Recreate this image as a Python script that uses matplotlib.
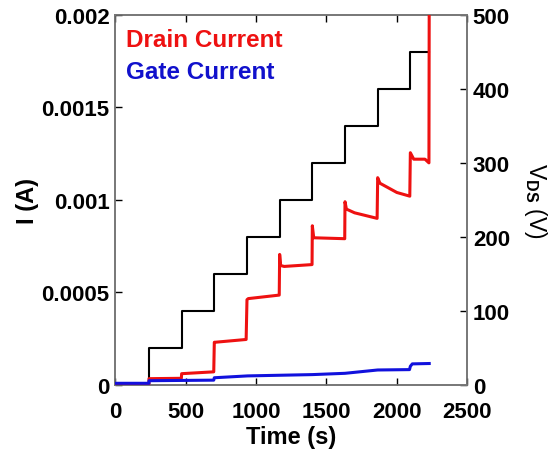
import matplotlib
matplotlib.use("Agg")
import matplotlib.pyplot as plt

plt.rcParams['font.family'] = ['Liberation Sans', 'DejaVu Sans']
plt.rcParams['font.weight'] = 'bold'
plt.rcParams['mathtext.fontset'] = 'custom'
plt.rcParams['mathtext.rm'] = 'Liberation Sans:bold'
plt.rcParams['mathtext.bf'] = 'Liberation Sans:bold'
plt.rcParams['mathtext.default'] = 'bf'

# voltage steps (s, V)
step_t = [0, 240, 472, 704, 936, 1168, 1400, 1632, 1864, 2096, 2230]
vds = [0, 50, 100, 150, 200, 250, 300, 350, 400, 450]

# drain current (s, A)
drain_t = [0, 240, 240, 470, 472, 700, 704, 710, 930, 936, 945, 1165,
           1168, 1175, 1200, 1398, 1400, 1410, 1630, 1632, 1642, 1700, 1860,
           1864, 1880, 2000, 2092, 2096, 2120, 2200, 2228, 2230]
drain_i = [0.5e-5, 0.5e-5, 3.3e-5, 3.5e-5, 6.0e-5, 7.0e-5, 2.3e-4, 2.3e-4, 2.45e-4, 4.6e-4, 4.66e-4, 4.85e-4,
           7.05e-4, 6.45e-4, 6.4e-4, 6.5e-4, 8.6e-4, 7.95e-4, 7.9e-4, 9.9e-4, 9.5e-4, 9.3e-4, 9.0e-4,
           1.12e-3, 1.09e-3, 1.04e-3, 1.02e-3, 1.255e-3, 1.22e-3, 1.22e-3, 1.2e-3, 2.1e-3]

# gate current (s, A)
gate_t = [0, 240, 240, 700, 704, 940, 1400, 1632, 1864, 2090, 2096, 2110, 2230]
gate_i = [0.8e-5, 0.8e-5, 2.2e-5, 2.5e-5, 3.8e-5, 4.8e-5, 5.5e-5, 6.2e-5, 8.0e-5, 8.2e-5, 1.0e-4, 1.13e-4, 1.15e-4]

fig, ax = plt.subplots(figsize=(5.51, 4.56), dpi=100)
fig.subplots_adjust(left=0.209, right=0.848, top=0.965, bottom=0.154)
ax2 = ax.twinx()

ax2.step(step_t, vds + [vds[-1]], where='post', color='black', lw=1.5, zorder=1)
ax.plot(drain_t, drain_i, color='#ee1111', lw=2.2, zorder=3)
ax.plot(gate_t, gate_i, color='#1111dd', lw=2.2, zorder=4)
ax.set_zorder(ax2.get_zorder() + 1)
ax.patch.set_visible(False)

ax.set_xlim(0, 2500)
ax.set_ylim(0, 0.002)
ax2.set_ylim(0, 500)
ax.set_xticks([0, 500, 1000, 1500, 2000, 2500])
ax.set_yticks([0, 0.0005, 0.001, 0.0015, 0.002])
ax.set_yticklabels(['0', '0.0005', '0.001', '0.0015', '0.002'])
ax2.set_yticks([0, 100, 200, 300, 400, 500])

for a in (ax, ax2):
    a.tick_params(direction='in', length=5, width=1, colors='#000000', labelsize=16, pad=4)
    for s in a.spines.values():
        s.set_color('#777777')
        s.set_linewidth(1.2)
ax.tick_params(top=True, which='both')
ax.tick_params(axis='x', pad=12)

ax.set_xlabel('Time (s)', fontsize=17, fontweight='bold', labelpad=2)
ax.set_ylabel('I (A)', fontsize=17, fontweight='bold', labelpad=2)
ax2.set_ylabel(r'V$_{\mathrm{DS}}$ (V)', fontsize=16.5, rotation=270, labelpad=28)

ax.text(0.03, 0.915, 'Drain Current', color='#ee1111', fontsize=17.5, fontweight='bold', transform=ax.transAxes)
ax.text(0.03, 0.83, 'Gate Current', color='#1111cc', fontsize=17.5, fontweight='bold', transform=ax.transAxes)

fig.savefig('out.png', dpi=100)
